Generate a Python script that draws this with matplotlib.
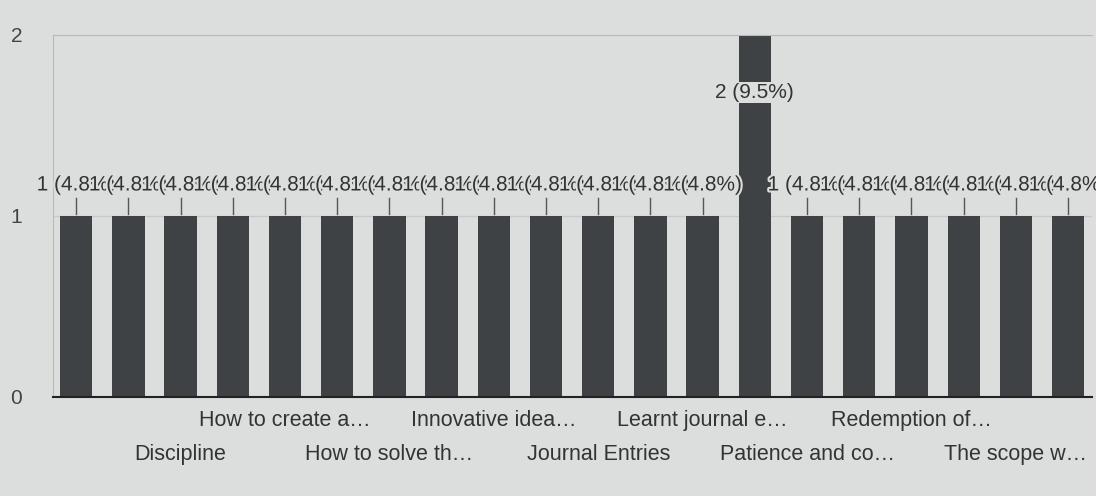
import matplotlib.pyplot as plt
import matplotlib.patheffects as pe
import numpy as np

# responses per answer (21 responses in total)
counts = [1, 1, 1, 1, 1, 1, 1, 1, 1, 1, 1, 1, 1, 2, 1, 1, 1, 1, 1, 1]
# only every other category name is readable in the chart
tick_labels = ['', '', 'Discipline', '', 'How to create a\u2026', '',
               'How to solve th\u2026', '', 'Innovative idea\u2026', '',
               'Journal Entries', '', 'Learnt journal e\u2026', '',
               'Patience and co\u2026', '', 'Redemption of\u2026', '',
               'The scope w\u2026', '']
y_ticks = [0, 1, 2]

plt.rcParams['font.family'] = ['Liberation Sans', 'DejaVu Sans']

total = sum(counts)
x = np.arange(len(counts))
bg = '#dcdedd'
bar_col = '#3f4245'
txt_col = '#333333'

fig = plt.figure(figsize=(10.96, 4.96), dpi=100, facecolor=bg)
ax = fig.add_axes([0.048, 0.2, 0.948, 0.73], facecolor=bg)

ax.bar(x, counts, width=0.62, color=bar_col, zorder=2)
ax.set_xlim(-0.45, len(counts) - 0.55)
ax.set_ylim(0, 2)
ax.set_yticks(y_ticks)
ax.set_yticklabels([str(v) for v in y_ticks], fontsize=15, color='#444444')
ax.yaxis.set_tick_params(length=0, pad=22)
ax.grid(axis='y', color='#c8caca', linewidth=1, zorder=0)

for s in ['left', 'top', 'right']:
    ax.spines[s].set_color('#b8baba')
ax.spines['right'].set_visible(False)
ax.spines['bottom'].set_color('#222222')
ax.spines['bottom'].set_linewidth(1.5)

# staggered category labels in two rows
ax.set_xticks(x)
ax.set_xticklabels([''] * len(x))
ax.tick_params(axis='x', length=0)
for i, lab in enumerate(tick_labels):
    if not lab:
        continue
    row = (i // 2) % 2  # Discipline in lower row, next in upper row
    y_off = -0.13 if row == 0 else -0.32
    ax.text(i, y_off, lab, ha='center', va='center', fontsize=15.5,
            color=txt_col, transform=ax.transData, clip_on=False)

# value labels with leader lines, drawn with a halo so later ones overlap earlier
halo = [pe.withStroke(linewidth=3, foreground=bg)]
for i, c in enumerate(counts):
    pct = c / total * 100
    lab = f'{c} ({pct:.1f}%)'
    if c == max(counts):
        ax.text(i, 1.68, lab, ha='center', va='center', fontsize=15,
                color=txt_col, zorder=5,
                bbox=dict(boxstyle='square,pad=0.05', fc=bg, ec='none'))
    else:
        ax.plot([i, i], [c + 0.01, c + 0.1], color='#555555', lw=1, zorder=3)
        ax.text(i, c + 0.17, lab, ha='center', va='center', fontsize=15,
                color=txt_col, zorder=4 + i * 0.01, path_effects=halo)

fig.savefig('out.png', dpi=100, facecolor=bg)
